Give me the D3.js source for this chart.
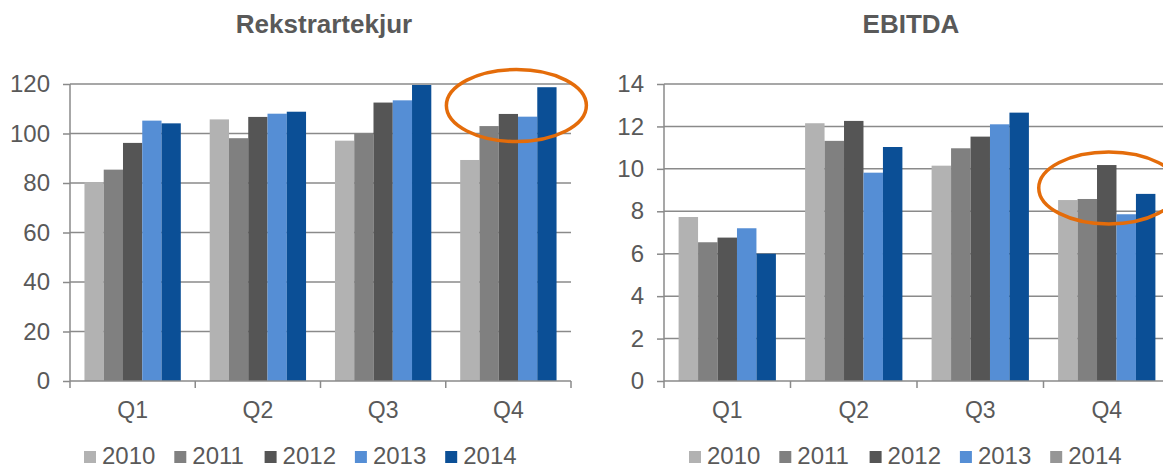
<!DOCTYPE html>
<html>
<head>
<meta charset="utf-8">
<script src="https://cdn.jsdelivr.net/npm/d3@7"></script>
<style>
  body { margin: 0; background: #fff; }
  text { font-family: "Liberation Sans", Arial, sans-serif; fill: #595959; }
</style>
</head>
<body>
<div id="chart"></div>
<script>
// Data
var quarters = ['Q1', 'Q2', 'Q3', 'Q4'];
var years = ['2010', '2011', '2012', '2013', '2014'];

var revenue2010 = [80.4, 105.7, 97.1, 89.3];
var revenue2011 = [85.4, 98.1, 100.1, 103.0];
var revenue2012 = [96.2, 106.7, 112.5, 107.9];
var revenue2013 = [105.2, 108.0, 113.4, 106.8];
var revenue2014 = [104.1, 108.8, 119.6, 118.7];

var ebitda2010 = [7.73, 12.15, 10.15, 8.53];
var ebitda2011 = [6.54, 11.32, 10.97, 8.58];
var ebitda2012 = [6.76, 12.26, 11.52, 10.18];
var ebitda2013 = [7.20, 9.82, 12.10, 7.86];
var ebitda2014 = [6.00, 11.03, 12.65, 8.82];

var revenueTicks = [0, 20, 40, 60, 80, 100, 120];
var ebitdaTicks = [0, 2, 4, 6, 8, 10, 12, 14];

var barColors = ['#b2b2b2', '#808080', '#555555', '#558ed5', '#0b4f96'];
// the EBITDA legend shows 2014 with a grey swatch in the original
var legendColorsRight = ['#b2b2b2', '#808080', '#555555', '#558ed5', '#969696'];

var svg = d3.select("#chart").append("svg")
    .attr("width", 1163)
    .attr("height", 470);

function drawChart(opts) {
    var series = opts.series;
    var rows = [];
    quarters.forEach(function(q, qi) {
        years.forEach(function(yr, yi) {
            rows.push({ quarter: q, year: yr, value: series[yi][qi], color: barColors[yi] });
        });
    });

    var g = svg.append("g").attr("transform", "translate(" + opts.left + "," + opts.top + ")");

    var x0 = d3.scaleBand().domain(quarters).range([0, opts.width]);
    var x1 = d3.scaleBand().domain(years).range([0, x0.bandwidth()]).paddingInner(0).paddingOuter(0.75);
    var y = d3.scaleLinear().domain([0, opts.max]).range([opts.height, 0]);

    // gridlines
    g.selectAll(".grid")
        .data(opts.ticks.slice(1))
        .enter().append("line")
        .attr("x1", 0)
        .attr("x2", opts.width)
        .attr("y1", d => y(d))
        .attr("y2", d => y(d))
        .style("stroke", "#8a8a8a")
        .style("stroke-width", 1.5);

    // bars
    g.selectAll(".bar")
        .data(rows)
        .enter().append("rect")
        .attr("x", d => x0(d.quarter) + x1(d.year))
        .attr("y", d => y(d.value))
        .attr("width", x1.bandwidth())
        .attr("height", d => opts.height - y(d.value))
        .style("fill", d => d.color);

    // y axis
    var yAxis = g.append("g")
        .call(d3.axisLeft(y).tickValues(opts.ticks).tickSize(7).tickPadding(13));
    yAxis.select(".domain").remove();
    yAxis.selectAll("line").style("stroke", "#8a8a8a").style("stroke-width", 1.5);
    yAxis.selectAll("text").style("font-size", "24px").style("fill", "#595959");
    g.append("line")
        .attr("x1", 0).attr("x2", 0)
        .attr("y1", 0).attr("y2", opts.height)
        .style("stroke", "#8a8a8a").style("stroke-width", 1.5);

    // x axis with ticks at category boundaries
    g.append("line")
        .attr("x1", 0).attr("x2", opts.width)
        .attr("y1", opts.height).attr("y2", opts.height)
        .style("stroke", "#8a8a8a").style("stroke-width", 1.5);
    var bounds = quarters.map(q => x0(q)).concat([opts.width]);
    g.selectAll(".xtick")
        .data(bounds)
        .enter().append("line")
        .attr("x1", d => d).attr("x2", d => d)
        .attr("y1", opts.height).attr("y2", opts.height + 7)
        .style("stroke", "#8a8a8a").style("stroke-width", 1.5);
    g.selectAll(".xlabel")
        .data(quarters)
        .enter().append("text")
        .attr("x", d => x0(d) + x0.bandwidth() / 2)
        .attr("y", opts.height + 37)
        .attr("text-anchor", "middle")
        .style("font-size", "23px")
        .text(d => d);

    // title
    svg.append("text")
        .attr("x", opts.titleX)
        .attr("y", 33)
        .attr("text-anchor", "middle")
        .style("font-size", "26px")
        .style("font-weight", "bold")
        .text(opts.title);

    // highlight ellipse on Q4
    g.append("ellipse")
        .attr("cx", x0(opts.mark.quarter) + x0.bandwidth() / 2 + opts.mark.dx)
        .attr("cy", y(opts.mark.value))
        .attr("rx", 70)
        .attr("ry", 36)
        .style("fill", "none")
        .style("stroke", "#e46c0a")
        .style("stroke-width", 3.5);

    // legend
    var legend = svg.append("g");
    var items = legend.selectAll("g")
        .data(years)
        .enter().append("g")
        .attr("transform", (d, i) => "translate(" + (opts.legendX + i * 90.3) + ",451)");
    items.append("rect")
        .attr("width", 12).attr("height", 12)
        .style("fill", (d, i) => opts.legendColors[i]);
    items.append("text")
        .attr("x", 18)
        .attr("y", 13)
        .style("font-size", "24px")
        .text(d => d);
}

drawChart({
    title: "Rekstrartekjur",
    titleX: 324,
    series: [revenue2010, revenue2011, revenue2012, revenue2013, revenue2014],
    ticks: revenueTicks,
    max: 120,
    left: 70, top: 84, width: 501, height: 297,
    mark: { quarter: 'Q4', value: 111.3, dx: 8 },
    legendX: 84,
    legendColors: barColors
});

drawChart({
    title: "EBITDA",
    titleX: 911,
    series: [ebitda2010, ebitda2011, ebitda2012, ebitda2013, ebitda2014],
    ticks: ebitdaTicks,
    max: 14,
    left: 664, top: 84, width: 506, height: 297,
    mark: { quarter: 'Q4', value: 9.1, dx: 2 },
    legendX: 689,
    legendColors: legendColorsRight
});
</script>
</body>
</html>
